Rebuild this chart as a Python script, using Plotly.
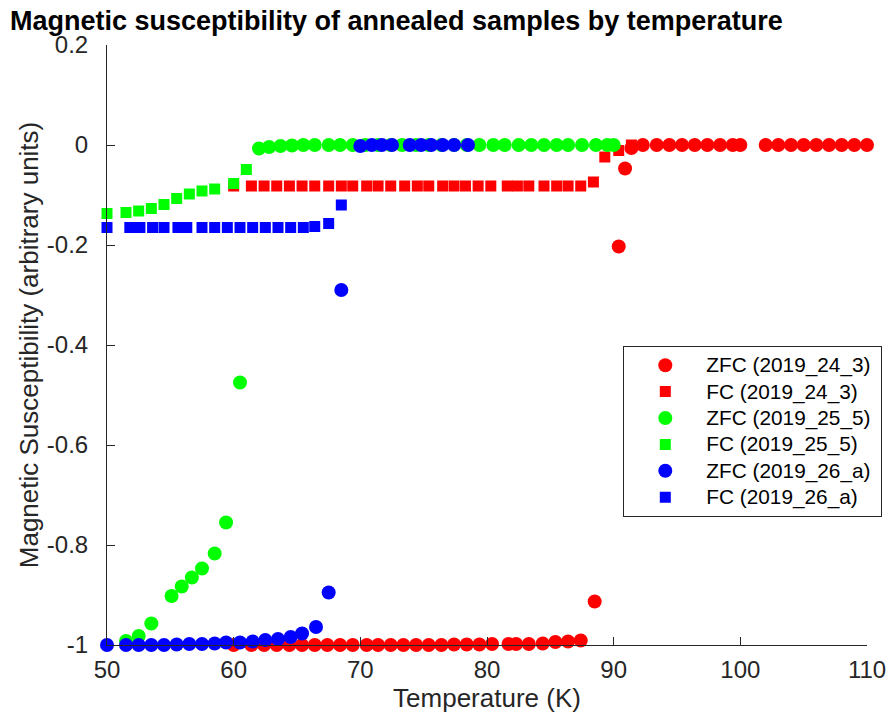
import plotly.graph_objects as go

# ---------------- data ----------------
zfc_243_T = [60.0, 61.4, 62.4, 63.4, 64.4, 65.4, 66.4, 67.4, 68.4, 69.4, 70.5, 71.4, 72.4, 73.4,
             74.4, 75.4, 76.4, 77.4, 78.4, 79.4, 80.4, 81.7, 82.3, 83.3, 84.4, 85.4, 86.4, 87.4,
             88.5, 90.4, 90.9, 91.4, 92.3, 93.4, 94.4, 95.4, 96.4, 97.4, 98.4, 99.4, 100.0,
             102.0, 103.0, 104.0, 105.0, 106.0, 107.0, 108.0, 109.0, 110.0]
zfc_243_M = [-1.0, -1.0, -1.0, -1.0, -1.0, -1.0, -1.0, -1.0, -1.0, -1.0, -1.0, -1.0, -1.0, -1.0,
             -1.0, -1.0, -1.0, -0.999, -0.999, -0.999, -0.998, -0.998, -0.998, -0.998, -0.997, -0.994, -0.993, -0.991,
             -0.913, -0.203, -0.047, -0.006, 0.0, 0.0, 0.0, 0.0, 0.0, 0.0, 0.0, 0.0, 0.0,
             0.0, 0.0, 0.0, 0.0, 0.0, 0.0, 0.0, 0.0, 0.0]

fc_243_T = [60.0, 61.4, 62.4, 63.4, 64.4, 65.4, 66.4, 67.5, 68.5, 69.4, 70.5, 71.4, 72.4, 73.5,
            74.5, 75.4, 76.5, 77.4, 78.3, 79.3, 80.3, 81.6, 82.4, 83.3, 84.5, 85.5, 86.4, 87.4,
            88.4, 89.3, 90.4, 91.4]
fc_243_M = [-0.082] * 28 + [-0.074, -0.024, -0.011, 0.0]

zfc_255_T = [51.5, 52.5, 53.5, 55.1, 55.9, 56.7, 57.5, 58.5, 59.4, 60.5, 62.0, 62.8, 63.7, 64.6,
             65.5, 66.4, 67.5, 68.4, 69.4, 70.4, 71.4, 72.4, 73.3, 74.4, 75.4, 76.4, 77.4, 78.4,
             79.4, 80.5, 81.4, 82.5, 83.5, 84.5, 85.5, 86.4, 87.5, 88.6, 89.5, 90.0]
zfc_255_M = [-0.992, -0.982, -0.957, -0.902, -0.883, -0.865, -0.847, -0.817, -0.755, -0.475,
             -0.007, -0.004, -0.002, -0.001, 0.0, 0.0, 0.0, 0.0, 0.0, 0.0, 0.0, 0.0, 0.0, 0.0,
             0.0, 0.0, 0.0, 0.0, 0.0, 0.0, 0.0, 0.0, 0.0, 0.0, 0.0, 0.0, 0.0, 0.0, 0.0, 0.0]

fc_255_T = [50.0, 51.5, 52.5, 53.5, 54.5, 55.5, 56.5, 57.5, 58.5, 60.0, 61.0]
fc_255_M = [-0.137, -0.135, -0.132, -0.127, -0.119, -0.107, -0.098, -0.092, -0.088, -0.077, -0.049]

zfc_26a_T = [50.0, 51.5, 52.5, 53.5, 54.5, 55.5, 56.5, 57.5, 58.5, 59.4, 60.5, 61.5, 62.5, 63.5,
             64.5, 65.4, 66.5, 67.5, 68.5, 70.0, 70.9, 71.7, 72.5, 73.9, 74.8, 75.6, 76.5, 77.4, 78.5]
zfc_26a_M = [-1.0, -1.0, -1.0, -1.0, -1.0, -0.999, -0.998, -0.998, -0.997, -0.995, -0.995, -0.993,
             -0.990, -0.988, -0.984, -0.977, -0.964, -0.895, -0.290, -0.002, 0.0, 0.0, 0.0, 0.0,
             0.0, 0.0, 0.0, 0.0, 0.0]

fc_26a_T = [50.0, 51.8, 52.6, 53.6, 54.5, 55.6, 56.3, 57.5, 58.5, 59.5, 60.5, 61.5, 62.5, 63.5,
            64.5, 65.5, 66.4, 67.5, 68.5]
fc_26a_M = [-0.165] * 16 + [-0.163, -0.157, -0.120]

x_ticks = [50, 60, 70, 80, 90, 100, 110]
y_ticks = [0.2, 0, -0.2, -0.4, -0.6, -0.8, -1]
y_tick_labels = ["0.2", "0", "-0.2", "-0.4", "-0.6", "-0.8", "-1"]

series = [
    ("ZFC (2019_24_3)", zfc_243_T, zfc_243_M, "circle", "#FF0000"),
    ("FC (2019_24_3)", fc_243_T, fc_243_M, "square", "#FF0000"),
    ("ZFC (2019_25_5)", zfc_255_T, zfc_255_M, "circle", "#00FF00"),
    ("FC (2019_25_5)", fc_255_T, fc_255_M, "square", "#00FF00"),
    ("ZFC (2019_26_a)", zfc_26a_T, zfc_26a_M, "circle", "#0000FF"),
    ("FC (2019_26_a)", fc_26a_T, fc_26a_M, "square", "#0000FF"),
]

FONT = "Liberation Sans, Arial, Helvetica, sans-serif"
AX = "#262626"

# the page body adds an 8px offset; the figure is sized to fit the window
W, H = 887, 709
PL, PR, PT, PB = 98.7, 858.7, 37, 637  # plot area in figure pixels

fig = go.Figure()
for name, xs, ys, sym, col in series:
    fig.add_trace(go.Scatter(
        x=xs, y=ys, mode="markers", cliponaxis=False,
        name='<span style="font-size:20.8px">' + name + '&nbsp;</span>',
        marker=dict(symbol=sym, color=col, size=14 if sym == "circle" else 11,
                    line=dict(width=0)),
    ))

fig.update_layout(
    width=W, height=H,
    margin=dict(l=PL, r=W - PR, t=PT, b=H - PB, autoexpand=False),
    paper_bgcolor="white", plot_bgcolor="white",
    font=dict(family=FONT, color=AX),
    title=dict(text="<b>Magnetic susceptibility of annealed samples by temperature</b>",
               xref="container", yref="container", x=2 / W, xanchor="left",
               y=1 - 13 / H, yanchor="middle",
               font=dict(family=FONT, size=27, color="black")),
    xaxis=dict(range=[50, 110], tickvals=x_ticks, ticks="inside", ticklen=8, tickcolor=AX,
               showline=True, linecolor=AX, linewidth=1, showgrid=False, zeroline=False,
               automargin=False, ticklabelstandoff=3,
               tickfont=dict(size=24, color=AX),
               title=dict(text="Temperature (K)", font=dict(size=26, color=AX), standoff=0)),
    yaxis=dict(range=[-1, 0.2], tickvals=y_ticks, ticktext=y_tick_labels, ticks="inside",
               ticklen=8, tickcolor=AX, showline=True, linecolor=AX, linewidth=1,
               showgrid=False, zeroline=False, automargin=False, ticklabelstandoff=13,
               tickfont=dict(size=24, color=AX),
               title=dict(text="Magnetic Susceptibility (arbitrary units)",
                          font=dict(size=26, color=AX), standoff=0)),
    legend=dict(x=(615 - PL) / (PR - PL), y=(PB - 338) / (PB - PT), xanchor="left", yanchor="top",
                bordercolor=AX, borderwidth=1, bgcolor="white",
                font=dict(size=18, color="black"), itemwidth=72),
    showlegend=True,
)

fig.write_html("out.html")
